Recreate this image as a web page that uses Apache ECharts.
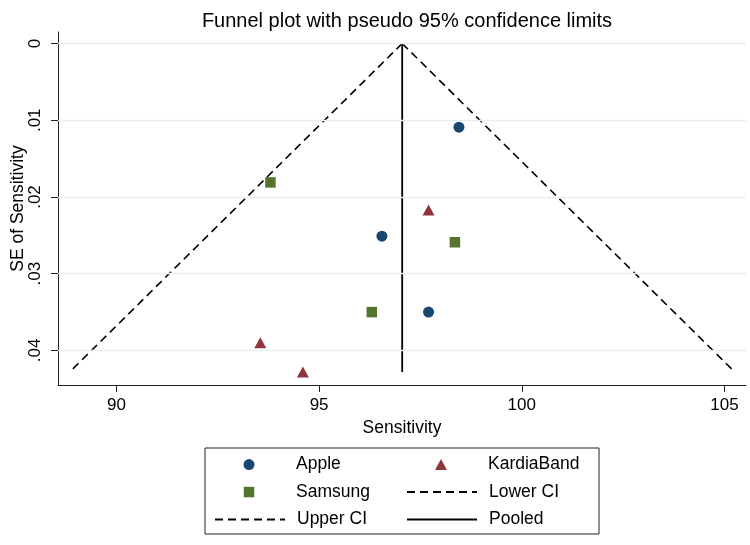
<!DOCTYPE html>
<html>
<head>
<meta charset="utf-8">
<script src="https://cdn.jsdelivr.net/npm/echarts@6/dist/echarts.min.js"></script>
<style>
html,body{margin:0;padding:0;background:#fff;}
#chart{width:750px;height:545px;}
</style>
</head>
<body>
<div id="chart"></div>
<script>
// ---- data ----
const appleSens = [98.45, 96.55, 97.7];
const appleSE   = [0.0109, 0.0251, 0.0350];
const samsungSens = [93.8, 98.35, 96.3];
const samsungSE   = [0.0181, 0.0259, 0.0350];
const kardiaSens = [97.7, 93.55, 94.6];
const kardiaSE   = [0.0217, 0.0390, 0.0428];
const pooledSens = 97.05;
const seRange = [0, 0.0428];
const lowerCIEnds = [97.05, 88.85];
const upperCIEnds = [97.05, 105.25];
const xTicks = [90, 95, 100, 105];
const yTicks = [0, 0.01, 0.02, 0.03, 0.04];
const legendNames = ['Apple', 'KardiaBand', 'Samsung', 'Lower CI', 'Upper CI', 'Pooled'];

const FONT = "'Liberation Sans', Arial, Helvetica, sans-serif";
const pairs = (xs, ys) => xs.map((x, i) => [x, ys[i]]);

// legend layout (2 columns x 3 rows inside a framed box)
const box = {x: 205, y: 448, w: 394, h: 86};
const rowY = [464.3, 491.8, 519.3];
const colSampleLeft = [214, 406];
const sampleW = 70;
const textStart = [296, 488];
const iconSizes = {Apple: [11, 11], Samsung: [10.5, 10.5], KardiaBand: [12, 11]};

function legendFor(name, idx) {
  const row = Math.floor(idx / 2), col = idx % 2;
  const isMarker = !!iconSizes[name];
  const [iw, ih] = isMarker ? iconSizes[name] : [sampleW, 11];
  const left = isMarker ? colSampleLeft[col] + sampleW / 2 - iw / 2 : colSampleLeft[col];
  const pad = textStart[col] - (left + iw + 5);
  const item = {name: name};
  if (!isMarker) item.itemStyle = {opacity: 0};
  return {
    data: [item],
    orient: 'horizontal',
    left: left, top: rowY[row] - 8.75,
    padding: 0, itemGap: 0,
    itemWidth: iw, itemHeight: ih,
    selectedMode: false,
    textStyle: {fontFamily: FONT, fontSize: 17.5, color: '#000', lineHeight: 17.5, padding: [0, 0, 0, pad]}
  };
}

const chart = echarts.init(document.getElementById('chart'), null, {renderer: 'canvas'});
const option = {
  animation: false,
  backgroundColor: '#fff',
  textStyle: {fontFamily: FONT},
  title: {
    text: 'Funnel plot with pseudo 95% confidence limits',
    left: 402, top: 6, textAlign: 'center',
    textStyle: {fontFamily: FONT, fontSize: 20, fontWeight: 'normal', color: '#000'}
  },
  graphic: [{
    type: 'rect', z: -1, silent: true,
    shape: {x: box.x, y: box.y, width: box.w, height: box.h},
    style: {fill: '#fff', stroke: '#222', lineWidth: 1}
  }],
  grid: {left: 58, right: 4, top: 32, bottom: 160, containLabel: false, outerBoundsMode: 'none'},
  xAxis: {
    type: 'value', min: 88.56, max: 105.53,
    name: 'Sensitivity', nameLocation: 'middle', nameGap: 30,
    nameTextStyle: {fontFamily: FONT, fontSize: 17.5, color: '#000'},
    axisLine: {show: true, onZero: false, lineStyle: {color: '#222', width: 1}},
    axisTick: {show: true, length: 7, customValues: xTicks, lineStyle: {color: '#222'}},
    axisLabel: {customValues: xTicks, margin: 12, fontFamily: FONT, fontSize: 17, color: '#000'},
    splitLine: {show: false}
  },
  yAxis: {
    type: 'value', inverse: true, min: -0.0015, max: 0.0445,
    name: 'SE of Sensitivity', nameLocation: 'middle', nameGap: 31, nameRotate: 90,
    nameMoveOverlap: false,
    nameTextStyle: {fontFamily: FONT, fontSize: 17.5, color: '#000'},
    axisLine: {show: true, onZero: false, lineStyle: {color: '#222', width: 1}},
    axisTick: {show: true, length: 7, customValues: yTicks, lineStyle: {color: '#222'}},
    axisLabel: {
      customValues: yTicks, rotate: 90, margin: 14, fontFamily: FONT, fontSize: 17, color: '#000',
      formatter: v => (v === 0 ? '0' : String(+v.toFixed(4)).replace(/^0/, ''))
    },
    splitLine: {show: false}
  },
  legend: legendNames.map(legendFor),
  series: [
    {
      name: 'gridlines', type: 'line', data: [], z: 0, silent: true,
      markLine: {
        silent: true, symbol: 'none', animation: false,
        label: {show: false},
        lineStyle: {color: '#e6eff1', width: 1.3, type: 'solid'},
        data: yTicks.map(v => ({yAxis: v}))
      }
    },
    {
      name: 'Lower CI', type: 'line', showSymbol: false, symbol: 'none', z: 2,
      data: [[lowerCIEnds[0], seRange[0]], [lowerCIEnds[1], seRange[1]]],
      lineStyle: {color: '#000', width: 1.6, type: [8, 5]},
      itemStyle: {color: '#000'}
    },
    {
      name: 'Upper CI', type: 'line', showSymbol: false, symbol: 'none', z: 2,
      data: [[upperCIEnds[0], seRange[0]], [upperCIEnds[1], seRange[1]]],
      lineStyle: {color: '#000', width: 1.6, type: [8, 5]},
      itemStyle: {color: '#000'}
    },
    {
      name: 'Pooled', type: 'line', showSymbol: false, symbol: 'none', z: 2,
      data: [[pooledSens, seRange[0]], [pooledSens, seRange[1]]],
      lineStyle: {color: '#000', width: 1.8, type: 'solid'},
      itemStyle: {color: '#000'}
    },
    {
      name: 'Apple', type: 'scatter', symbol: 'circle', symbolSize: 11, z: 3,
      data: pairs(appleSens, appleSE),
      itemStyle: {color: '#1a476f', opacity: 1}
    },
    {
      name: 'Samsung', type: 'scatter', symbol: 'rect', symbolSize: 10.5, z: 3,
      data: pairs(samsungSens, samsungSE),
      itemStyle: {color: '#55752f', opacity: 1}
    },
    {
      name: 'KardiaBand', type: 'scatter', symbol: 'triangle', symbolSize: [12, 11], z: 3,
      data: pairs(kardiaSens, kardiaSE),
      itemStyle: {color: '#90353b', opacity: 1}
    }
  ]
};
chart.setOption(option);
</script>
</body>
</html>
